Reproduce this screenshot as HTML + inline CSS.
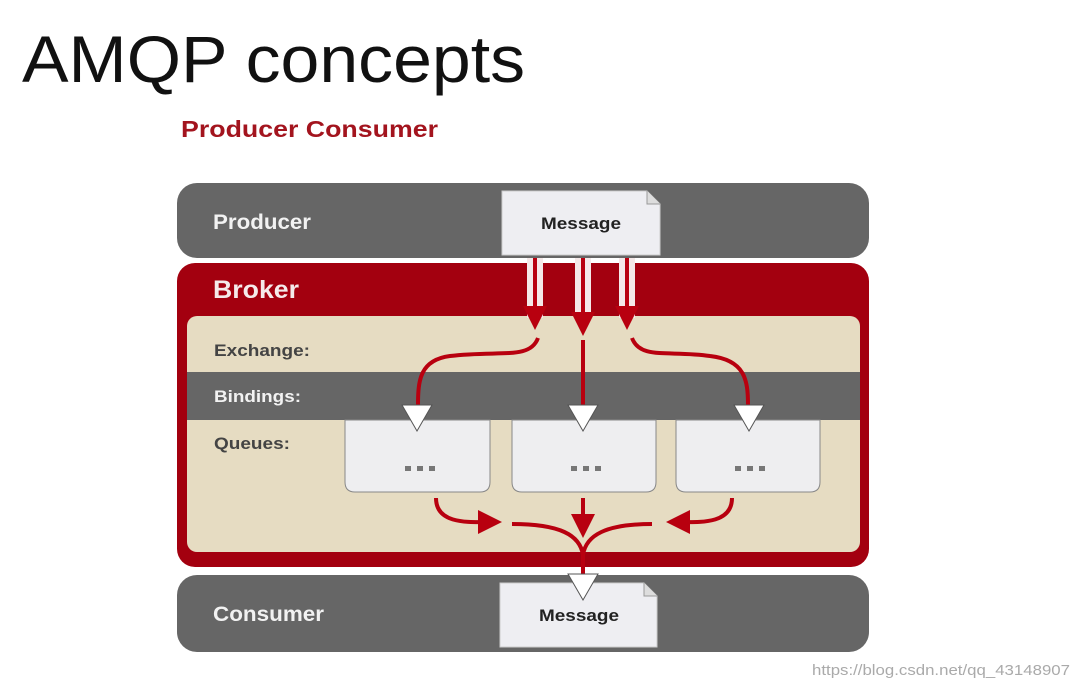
<!DOCTYPE html>
<html><head><meta charset="utf-8"><style>
html,body{margin:0;padding:0;background:#fff;}
svg{display:block;font-family:"Liberation Sans",sans-serif;}
</style></head><body>
<svg width="1080" height="690" viewBox="0 0 1080 690" xmlns="http://www.w3.org/2000/svg">
<defs>
<marker id="ah" markerWidth="6" markerHeight="6" refX="3" refY="3" orient="auto" markerUnits="strokeWidth">
<path d="M0,0 L6,3 L0,6 z" fill="#b8000f"/></marker>
</defs>
<text x="22" y="82" font-size="66" fill="#111" textLength="503" lengthAdjust="spacingAndGlyphs">AMQP concepts</text>
<text x="181" y="137" font-size="23" font-weight="bold" fill="#a3141e" textLength="257" lengthAdjust="spacingAndGlyphs">Producer Consumer</text>

<!-- Producer -->
<rect x="177" y="183" width="692" height="75" rx="20" fill="#666"/>
<text x="213" y="229" font-size="21" font-weight="bold" fill="#f2f2f2" textLength="98" lengthAdjust="spacingAndGlyphs">Producer</text>
<path d="M502,191 H647 L660,204 V255 H502 Z" fill="#eeeef2" stroke="#ccc"/>
<path d="M647,191 V204 H660" fill="#ddd" stroke="#999"/>
<text x="541" y="229" font-size="17" font-weight="bold" fill="#222" textLength="80" lengthAdjust="spacingAndGlyphs">Message</text>

<!-- Broker -->
<rect x="177" y="263" width="692" height="304" rx="18" fill="#a3000f"/>
<text x="213" y="298" font-size="25" font-weight="bold" fill="#f5eaea" textLength="86" lengthAdjust="spacingAndGlyphs">Broker</text>
<rect x="187" y="316" width="673" height="236" rx="10" fill="#e6dcc2"/>
<rect x="187" y="372" width="673" height="48" fill="#666"/>
<text x="214" y="356" font-size="17" font-weight="bold" fill="#444" textLength="96" lengthAdjust="spacingAndGlyphs">Exchange:</text>
<text x="214" y="402" font-size="17" font-weight="bold" fill="#f2f2f2" textLength="87" lengthAdjust="spacingAndGlyphs">Bindings:</text>
<text x="214" y="449" font-size="17" font-weight="bold" fill="#444" textLength="76" lengthAdjust="spacingAndGlyphs">Queues:</text>

<!-- queues -->
<g fill="#eeeef0" stroke="#888" stroke-width="1">
<path d="M345,420 H490 V482 Q490,492 480,492 H355 Q345,492 345,482 Z"/>
<path d="M512,420 H656 V482 Q656,492 646,492 H522 Q512,492 512,482 Z"/>
<path d="M676,420 H820 V482 Q820,492 810,492 H686 Q676,492 676,482 Z"/>
</g>
<g fill="#777">
<rect x="405" y="466" width="6" height="5"/><rect x="417" y="466" width="6" height="5"/><rect x="429" y="466" width="6" height="5"/>
<rect x="571" y="466" width="6" height="5"/><rect x="583" y="466" width="6" height="5"/><rect x="595" y="466" width="6" height="5"/>
<rect x="735" y="466" width="6" height="5"/><rect x="747" y="466" width="6" height="5"/><rect x="759" y="466" width="6" height="5"/>
</g>

<!-- striped lines from message -->
<g fill="#f4e8e8">
<rect x="527" y="258" width="16" height="60"/>
<rect x="575" y="258" width="16" height="60"/>
<rect x="619" y="258" width="16" height="60"/>
</g>
<g stroke="#b8000f" stroke-width="4" fill="none">
<path d="M535,258 V318" marker-end="url(#ah)"/>
<path d="M583,258 V324" marker-end="url(#ah)"/>
<path d="M627,258 V318" marker-end="url(#ah)"/>
<path d="M538,338 C530,360 500,350 450,356 C420,360 418,380 418,405"/>
<path d="M583,340 V405"/>
<path d="M632,338 C640,360 670,350 710,356 C745,360 748,380 748,405"/>
<path d="M436,498 C436,525 470,522 490,522" marker-end="url(#ah)"/>
<path d="M583,498 V526" marker-end="url(#ah)"/>
<path d="M732,498 C732,525 698,522 678,522" marker-end="url(#ah)"/>
<path d="M512,524 C560,524 580,535 583,555 C586,535 606,524 652,524"/>
<path d="M583,548 V575"/>
</g>
<g fill="#fff" stroke="#555" stroke-width="1">
<path d="M402,405 H432 L417,431 Z"/>
<path d="M568,405 H598 L583,431 Z"/>
<path d="M734,405 H764 L749,431 Z"/>
</g>

<!-- Consumer -->
<rect x="177" y="575" width="692" height="77" rx="20" fill="#666"/>
<text x="213" y="621" font-size="21" font-weight="bold" fill="#f2f2f2" textLength="111" lengthAdjust="spacingAndGlyphs">Consumer</text>
<path d="M500,583 H644 L657,596 V647 H500 Z" fill="#eeeef2" stroke="#ccc"/>
<path d="M644,583 V596 H657" fill="#ddd" stroke="#999"/>
<text x="539" y="621" font-size="17" font-weight="bold" fill="#222" textLength="80" lengthAdjust="spacingAndGlyphs">Message</text>
<path d="M568,574 H598 L583,600 Z" fill="#fff" stroke="#555"/>

<text x="812" y="675" font-size="15" fill="#aaa" textLength="258" lengthAdjust="spacingAndGlyphs">https://blog.csdn.net/qq_43148907</text>
</svg>
</body></html>
